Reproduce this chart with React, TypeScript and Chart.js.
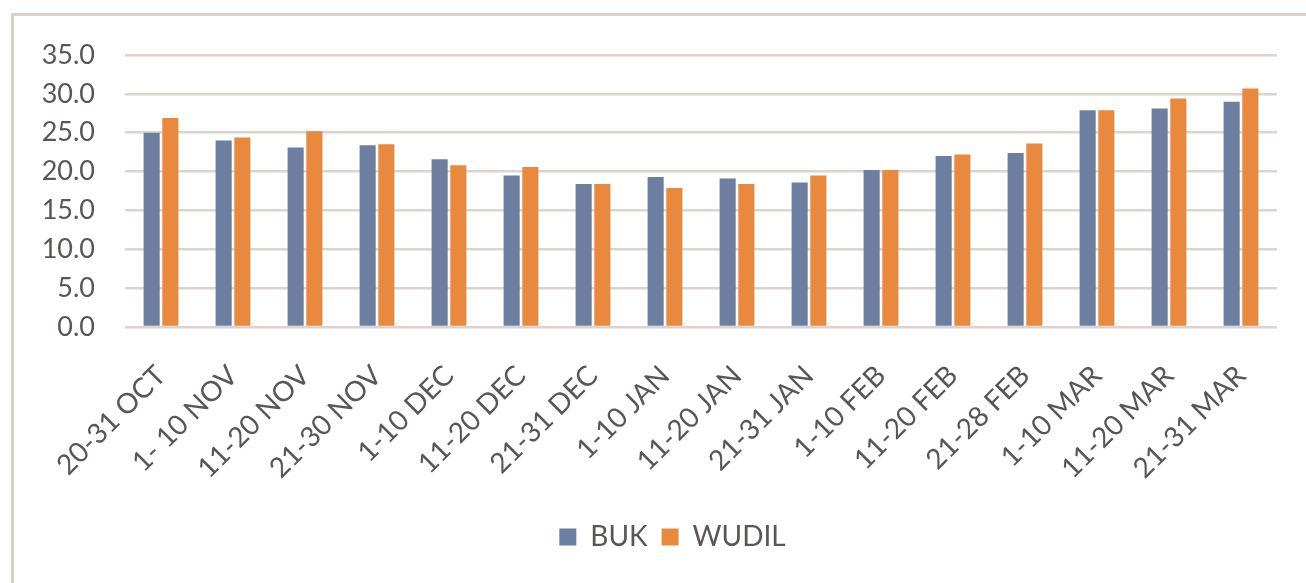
import React, { useEffect, useRef } from "react";
import { Chart, registerables } from "chart.js";

Chart.register(...registerables);

const categories = [
  "20-31 OCT", "1- 10 NOV", "11-20 NOV", "21-30 NOV", "1-10 DEC", "11-20 DEC",
  "21-31 DEC", "1-10 JAN", "11-20 JAN", "21-31 JAN", "1-10 FEB", "11-20 FEB",
  "21-28 FEB", "1-10 MAR", "11-20 MAR", "21-31 MAR",
];
const bukValues = [25.0, 24.0, 23.1, 23.4, 21.6, 19.5, 18.4, 19.3, 19.1, 18.6, 20.2, 22.0, 22.4, 27.9, 28.1, 29.0];
const wudilValues = [26.9, 24.4, 25.2, 23.5, 20.8, 20.6, 18.4, 17.9, 18.4, 19.5, 20.2, 22.2, 23.6, 27.9, 29.4, 30.7];
const yMin = 0;
const yMax = 35;
const yStep = 5;

const TEXT = "#5b5555";
const FONT = "Lato, 'Open Sans', sans-serif";

const legendShift = {
  id: "legendShift",
  afterLayout(chart: any) {
    if (chart.legend) {
      chart.legend.left += 34;
      chart.legend.right += 34;
    }
  },
};

export default function App() {
  const ref = useRef<HTMLCanvasElement | null>(null);
  useEffect(() => {
    document.body.style.margin = "0";
    const chart = new Chart(ref.current as HTMLCanvasElement, {
      type: "bar",
      data: {
        labels: categories,
        datasets: [
          { label: "BUK", data: bukValues, backgroundColor: "#6d7fa0", barPercentage: 0.86, categoryPercentage: 0.52 },
          { label: "WUDIL", data: wudilValues, backgroundColor: "#e8893e", barPercentage: 0.86, categoryPercentage: 0.52 },
        ],
      },
      options: {
        animation: false,
        responsive: false,
        maintainAspectRatio: false,
        layout: { padding: { top: 55, right: 29, left: 0, bottom: 22 } },
        plugins: {
          tooltip: { enabled: false },
          legend: {
            position: "bottom",
            labels: {
              font: { family: FONT, size: 28 },
              color: TEXT,
              boxWidth: 17,
              boxHeight: 17,
              padding: 14,
            },
          },
        },
        scales: {
          x: {
            grid: { display: false },
            border: { display: false },
            ticks: {
              color: TEXT,
              font: { family: FONT, size: 28 },
              minRotation: 45,
              maxRotation: 45,
              autoSkip: false,
              padding: 24,
            },
            afterFit: (s: any) => { s.height = 182; },
          },
          y: {
            min: yMin,
            max: yMax,
            grid: { color: "#dbd4d0", lineWidth: 2.5, drawTicks: false },
            border: { display: false },
            ticks: {
              stepSize: yStep,
              color: TEXT,
              font: { family: FONT, size: 27 },
              padding: 30,
              callback: (v: any) => Number(v).toFixed(1),
            },
            afterFit: (s: any) => { s.width = 125; },
          },
        },
      },
      plugins: [legendShift],
    });
    return () => chart.destroy();
  }, []);
  return (
    <div style={{ position: "relative", width: 1306, height: 583, overflow: "hidden", background: "#fff" }}>
      <div style={{ position: "absolute", left: 11, top: 13, width: 1400, height: 700, borderLeft: "3px solid #d9d0ca", borderTop: "3px solid #d9d0ca" }} />
      <canvas ref={ref} width={1306} height={583} style={{ position: "absolute", left: 0, top: 0 }} />
    </div>
  );
}
